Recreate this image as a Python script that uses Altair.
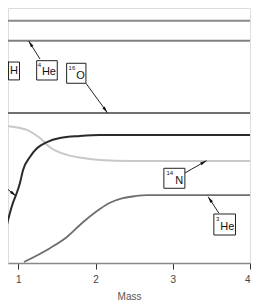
import math
import altair as alt
import pandas as pd

# ---- data (mass coordinate vs. log abundance) ----
black_mass = [0.763, 0.828, 0.867, 0.931, 0.970, 1.022, 1.061, 1.151, 1.242, 1.371, 1.539, 1.798, 2.057, 4.0]
black_val = [-4.47, -4.41, -4.16, -3.82, -3.67, -3.43, -3.18, -2.92, -2.75, -2.63, -2.55, -2.51, -2.49, -2.49]

n14_mass = [0.763, 0.931, 1.113, 1.281, 1.410, 1.630, 1.837, 2.057, 2.445, 4.0]
n14_val = [-2.31, -2.33, -2.39, -2.55, -2.73, -2.88, -2.94, -2.98, -3.00, -3.00]

he3_mass = [1.074, 1.410, 1.630, 1.837, 2.057, 2.186, 2.354, 2.510, 2.665, 4.0]
he3_val = [-4.98, -4.71, -4.49, -4.20, -3.94, -3.82, -3.73, -3.69, -3.67, -3.67]

flat_names = ["top", "4He", "16O"]
flat_val = [-0.25, -0.64, -2.06]

# label boxes
box_names = ["H", "4He", "16O", "14N", "3He"]
box_x1 = [0.874, 1.238, 1.626, 2.885, 3.532]
box_x2 = [1.016, 1.505, 1.876, 3.157, 3.812]
box_y1 = [-1.06, -1.033, -1.084, -3.143, -4.039]
box_y2 = [-1.41, -1.412, -1.476, -3.535, -4.451]
main_text = ["H", "He", "O", "N", "He"]
main_x = [0.945, 1.397, 1.805, 3.085, 3.706]
main_y = [-1.235, -1.255, -1.333, -3.392, -4.294]
sup_text = ["", "4", "16", "14", "3"]
sup_x = [0.945, 1.274, 1.695, 2.962, 3.583]
sup_y = [-1.118, -1.118, -1.167, -3.235, -4.137]

# arrows: tail -> tip
arr_x1 = [0.874, 1.281, 1.876, 3.157, 3.596, 0.763]
arr_y1 = [-1.059, -1.00, -1.476, -3.235, -4.02, -3.43]
arr_x2 = [0.790, 1.135, 2.154, 3.437, 3.458, 0.970]
arr_y2 = [-0.90, -0.647, -2.053, -2.994, -3.70, -3.686]

tick_vals = [1, 2, 3, 4]

# ---- layout ----
W, H = 242, 255
XD = [0.867, 4.0]
YD = [-5.0, 0.0]
xs = alt.Scale(domain=XD, nice=False, zero=False)
ys = alt.Scale(domain=YD, nice=False, zero=False)

pxx = W / (XD[1] - XD[0])
pxy = H / (YD[1] - YD[0])

black = pd.DataFrame({"m": black_mass, "v": black_val})
n14 = pd.DataFrame({"m": n14_mass, "v": n14_val})
he3 = pd.DataFrame({"m": he3_mass, "v": he3_val})
flat = pd.DataFrame({"name": flat_names, "v": flat_val})
boxes = pd.DataFrame({"name": box_names, "x1": box_x1, "x2": box_x2, "y1": box_y1, "y2": box_y2,
                      "t": main_text, "tx": main_x, "ty": main_y,
                      "s": sup_text, "sx": sup_x, "sy": sup_y})
arrows = pd.DataFrame({"x1": arr_x1, "y1": arr_y1, "x2": arr_x2, "y2": arr_y2})
arrows["ang"] = [
    (math.degrees(math.atan2((b - a) * pxx, (d - c) * pxy)) + 360) % 360
    for a, b, c, d in zip(arr_x1, arr_x2, arr_y1, arr_y2)
]

xaxis = alt.Axis(values=tick_vals, title="Mass", grid=False, domainColor="#888888", domainWidth=1.5,
                 tickColor="#333333", tickSize=6, tickWidth=1, labelFontSize=10, labelColor="#444444",
                 labelFont="Liberation Sans", labelPadding=5, titleFont="Liberation Sans",
                 titleFontSize=10, titleFontWeight="normal", titleColor="#555555", titlePadding=7,
                 format="d")

base_x = alt.X("m:Q", scale=xs, axis=xaxis)
base_y = alt.Y("v:Q", scale=ys, axis=None)

flat_colors = ["#8a8a8a", "#808080", "#707070"]
rules = alt.Chart(flat).mark_rule(strokeWidth=2, clip=True).encode(
    y=alt.Y("v:Q", scale=ys, axis=None),
    color=alt.Color("name:N", scale=alt.Scale(domain=flat_names, range=flat_colors), legend=None),
)

l_n14 = alt.Chart(n14).mark_line(color="#c8c8c8", strokeWidth=2, clip=True, interpolate="monotone").encode(x=base_x, y=base_y)
l_he3 = alt.Chart(he3).mark_line(color="#6e6e6e", strokeWidth=1.8, clip=True, interpolate="monotone").encode(x=base_x, y=base_y)
l_black = alt.Chart(black).mark_line(color="#2a2a2a", strokeWidth=2, clip=True, interpolate="monotone").encode(x=base_x, y=base_y)

arr_lines = alt.Chart(arrows).mark_rule(color="#222222", strokeWidth=1, clip=True).encode(
    x=alt.X("x1:Q", scale=xs, axis=xaxis), y=alt.Y("y1:Q", scale=ys, axis=None),
    x2="x2:Q", y2="y2:Q")
arr_heads = alt.Chart(arrows).mark_point(shape="M0,0L0.6,2.6L-0.6,2.6Z", filled=True, size=25,
                                         color="#111111", opacity=1, clip=True).encode(
    x=alt.X("x2:Q", scale=xs, axis=xaxis), y=alt.Y("y2:Q", scale=ys, axis=None),
    angle=alt.Angle("ang:Q", scale=None))

rects = alt.Chart(boxes).mark_rect(fill="white", stroke="#222222", strokeWidth=1, clip=True).encode(
    x=alt.X("x1:Q", scale=xs, axis=xaxis), x2="x2:Q",
    y=alt.Y("y1:Q", scale=ys, axis=None), y2="y2:Q")
main_lbl = alt.Chart(boxes).mark_text(font="Liberation Sans", fontSize=11, color="#111111",
                                      align="center", baseline="middle", clip=True).encode(
    x=alt.X("tx:Q", scale=xs, axis=xaxis), y=alt.Y("ty:Q", scale=ys, axis=None), text="t:N")
sup_lbl = alt.Chart(boxes).mark_text(font="Liberation Sans", fontSize=6, color="#111111",
                                     align="center", baseline="middle", clip=True).encode(
    x=alt.X("sx:Q", scale=xs, axis=xaxis), y=alt.Y("sy:Q", scale=ys, axis=None), text="s:N")

chart = alt.layer(rules, l_n14, l_he3, l_black, arr_lines, arr_heads, rects, main_lbl, sup_lbl).properties(
    width=W, height=H, padding=0
).configure_view(stroke=None).configure(background="white")

chart.save("out.html", embed_options={"renderer": "svg", "actions": False})
